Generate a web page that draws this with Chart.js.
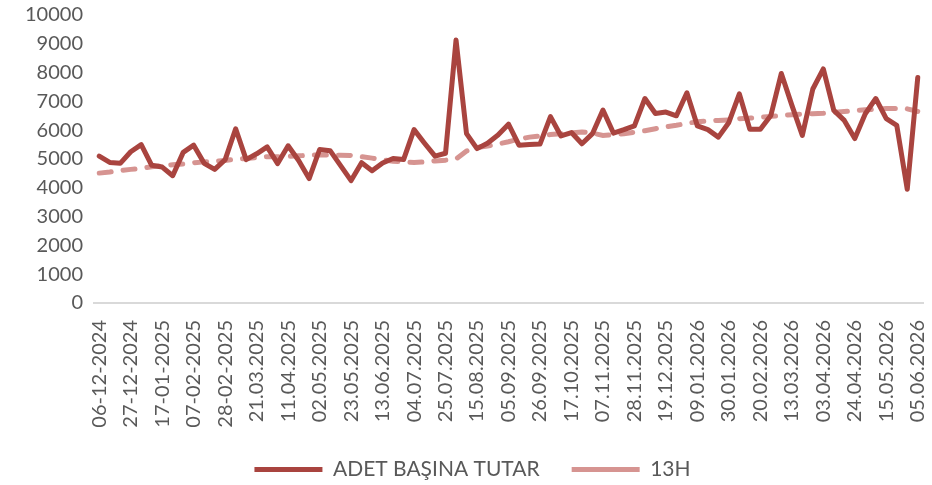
<!DOCTYPE html>
<html>
<head>
<meta charset="utf-8">
<script src="https://cdn.jsdelivr.net/npm/chart.js@4.4.1/dist/chart.umd.min.js"></script>
<style>
  html, body { margin: 0; padding: 0; background: #fff; }
  #wrap { width: 932px; height: 485px; }
</style>
</head>
<body>
<div id="wrap"><canvas id="chart"></canvas></div>
<script>
// weekly dates, starting 06-12-2024 (79 weeks)
const startDate = new Date(2024, 11, 6);
const pad = n => String(n).padStart(2, '0');
const dates = [];
for (let i = 0; i < 79; i++) {
    const d = new Date(startDate.getTime() + i * 7 * 86400000);
    const sep = i < 13 ? '-' : '.';
    dates.push(pad(d.getDate()) + sep + pad(d.getMonth() + 1) + sep + d.getFullYear());
}

const adetBasinaTutar = [
    5100, 4880, 4850, 5250, 5500, 4780, 4720, 4420, 5230, 5480,
    4850, 4640, 4980, 6050, 4980, 5180, 5420, 4840, 5460, 4950,
    4320, 5330, 5290, 4770, 4250, 4870, 4590, 4860, 5020, 4980,
    6020, 5550, 5100, 5200, 9130, 5880, 5360, 5550, 5830, 6210,
    5480, 5500, 5520, 6470, 5800, 5920, 5530, 5880, 6700, 5900,
    6020, 6150, 7100, 6580, 6630, 6500, 7300, 6150, 6020, 5760,
    6270, 7260, 6030, 6030, 6510, 7970, 6870, 5820, 7430, 8130,
    6690, 6340, 5710, 6570, 7100, 6400, 6170, 3950, 7830
];

const h13 = [
    4510, 4550, 4600, 4640, 4680, 4730, 4770, 4800, 4830, 4870,
    4900, 4920, 4950, 4990, 5020, 5050, 5080, 5080, 5090, 5110,
    5130, 5140, 5140, 5130, 5120, 5080, 5030, 4970, 4920, 4900,
    4880, 4900, 4930, 4960, 5000, 5280, 5400, 5450, 5520, 5600,
    5690, 5760, 5800, 5850, 5880, 5910, 5940, 5900, 5820, 5850,
    5880, 5930, 5980, 6050, 6120, 6170, 6240, 6290, 6320, 6340,
    6360, 6400, 6420, 6450, 6480, 6510, 6540, 6560, 6570, 6590,
    6620, 6650, 6680, 6710, 6730, 6750, 6750, 6740, 6650
];

const seriesNames = ['ADET BAŞINA TUTAR', '13H'];
const textColor = '#595959';
const fontFamily = 'Lato, "Open Sans", sans-serif';

const ctx = document.getElementById('chart').getContext('2d');
new Chart(ctx, {
    type: 'line',
    data: {
        labels: dates,
        datasets: [{
            label: seriesNames[0],
            data: adetBasinaTutar,
            borderColor: '#A9443F',
            backgroundColor: '#A9443F',
            borderWidth: 5,
            borderJoinStyle: 'round',
            borderCapStyle: 'round',
            pointRadius: 0,
            pointStyle: 'line',
            tension: 0,
            order: 1
        }, {
            label: seriesNames[1],
            data: h13,
            borderColor: '#D69491',
            backgroundColor: '#D69491',
            borderWidth: 5,
            borderDash: [12, 12],
            borderCapStyle: 'round',
            pointRadius: 0,
            pointStyle: 'line',
            tension: 0,
            order: 2
        }]
    },
    options: {
        responsive: true,
        maintainAspectRatio: false,
        animation: false,
        layout: { padding: { top: 8, right: 9, left: 22, bottom: -5 } },
        plugins: {
            tooltip: { enabled: false },
            legend: {
                position: 'bottom',
                labels: {
                    usePointStyle: true,
                    pointStyleWidth: 68,
                    boxHeight: 10,
                    padding: 32,
                    color: textColor,
                    font: { family: fontFamily, size: 21 }
                }
            }
        },
        scales: {
            x: {
                offset: true,
                grid: { display: false },
                border: { display: true, color: '#d9d9d9', width: 2 },
                afterFit: scale => {
                    scale.height = 124;
                    scale.paddingRight = 0;
                    scale.paddingLeft = 0;
                },
                ticks: {
                    autoSkip: false,
                    maxRotation: 90,
                    minRotation: 90,
                    color: textColor,
                    font: { family: fontFamily, size: 20 },
                    padding: 9,
                    callback: function (value, index) {
                        return index % 3 === 0 ? this.getLabelForValue(value) : '';
                    }
                }
            },
            y: {
                min: 0,
                max: 10000,
                grid: { display: false },
                border: { display: false },
                ticks: {
                    stepSize: 1000,
                    autoSkip: false,
                    color: textColor,
                    font: { family: fontFamily, size: 20 },
                    padding: 3,
                    callback: value => String(value)
                }
            }
        }
    }
});
</script>
</body>
</html>
